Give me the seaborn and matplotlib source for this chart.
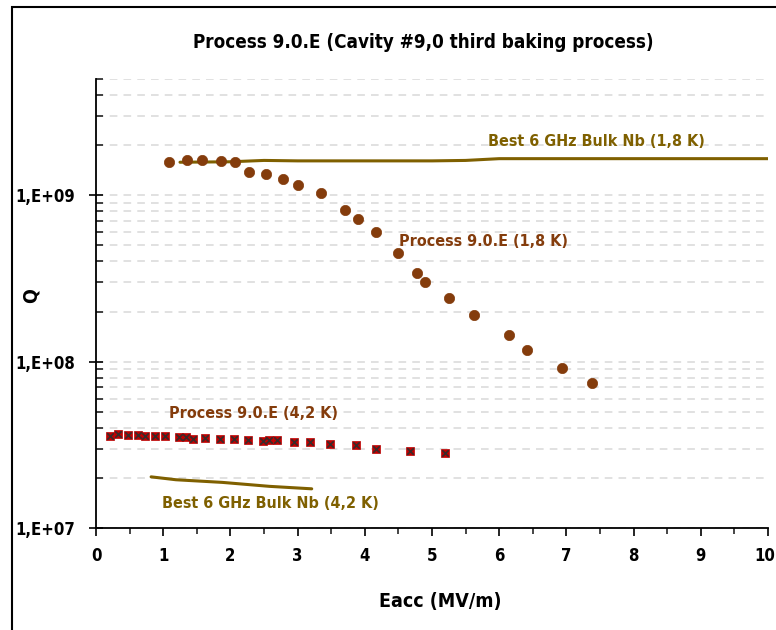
import matplotlib
matplotlib.use("Agg")
import matplotlib.pyplot as plt
import matplotlib.ticker as mticker
import matplotlib.transforms as mtransforms
from matplotlib.patches import Rectangle
import numpy as np
import pandas as pd
import seaborn as sns

# Q(Eacc) at 1.8 K, process 9.0.E
eacc_18 = [1.09, 1.36, 1.58, 1.86, 2.07, 2.28, 2.53, 2.79, 3.01, 3.35, 3.70,
           3.90, 4.17, 4.50, 4.78, 4.90, 5.25, 5.63, 6.14, 6.42, 6.94, 7.38]
q_18 = [1.58e9, 1.62e9, 1.62e9, 1.60e9, 1.58e9, 1.38e9, 1.34e9, 1.25e9, 1.16e9,
        1.03e9, 8.2e8, 7.2e8, 6.0e8, 4.5e8, 3.4e8, 3.0e8, 2.4e8, 1.9e8, 1.45e8,
        1.18e8, 9.2e7, 7.4e7]

# Q(Eacc) at 4.2 K, process 9.0.E
eacc_42 = [0.21, 0.33, 0.48, 0.62, 0.73, 0.88, 1.02, 1.23, 1.34, 1.45, 1.62, 1.85,
           2.05, 2.26, 2.48, 2.58, 2.70, 2.95, 3.18, 3.48, 3.87, 4.17, 4.67, 5.19]
q_42 = [3.55e7, 3.67e7, 3.61e7, 3.61e7, 3.58e7, 3.59e7, 3.57e7, 3.53e7, 3.50e7,
        3.45e7, 3.47e7, 3.45e7, 3.42e7, 3.36e7, 3.34e7, 3.40e7, 3.36e7, 3.30e7,
        3.27e7, 3.22e7, 3.16e7, 2.99e7, 2.90e7, 2.81e7]

# Reference curves: best 6 GHz bulk Nb cavity
best_eacc_18 = [1.25, 2.0, 2.5, 3.0, 4.0, 5.0, 5.5, 6.0, 7.0, 8.0, 10.0]
best_q_18 = [1.58e9, 1.59e9, 1.62e9, 1.61e9, 1.61e9, 1.61e9, 1.62e9, 1.66e9,
             1.66e9, 1.66e9, 1.66e9]
best_eacc_42 = [0.82, 1.19, 1.88, 2.58, 3.21]
best_q_42 = [2.03e7, 1.95e7, 1.88e7, 1.78e7, 1.72e7]

y_ticks = [1e7, 1e8, 1e9]
y_tick_labels = ["1,E+07", "1,E+08", "1,E+09"]
x_ticks = list(range(0, 11))

BROWN = "#843C0C"
OLIVE = "#7F6000"
RED = "#C00000"

sns.set_style("white")
plt.rcParams["font.family"] = ["DejaVu Sans"]
plt.rcParams["font.stretch"] = "condensed"
plt.rcParams["font.weight"] = "bold"
plt.rcParams["text.color"] = "black"
plt.rcParams["axes.labelcolor"] = "black"

fig = plt.figure(figsize=(7.76, 6.30), dpi=100)
ax = fig.add_axes([96 / 776, 102 / 630, 672 / 776, 449 / 630])

# outer chart border
fig.patches.append(Rectangle((12 / 776, -0.1), 1.2, 1.1 - 7 / 630,
                             transform=fig.transFigure, fill=False,
                             edgecolor="black", linewidth=1.5, zorder=0))

df18b = pd.DataFrame({"Eacc": best_eacc_18, "Q": best_q_18})
df42b = pd.DataFrame({"Eacc": best_eacc_42, "Q": best_q_42})
df18 = pd.DataFrame({"Eacc": eacc_18, "Q": q_18})
df42 = pd.DataFrame({"Eacc": eacc_42, "Q": q_42})

sns.lineplot(data=df18b, x="Eacc", y="Q", ax=ax, color=OLIVE, linewidth=2.2,
             sort=True, zorder=3)
sns.lineplot(data=df42b, x="Eacc", y="Q", ax=ax, color=OLIVE, linewidth=2.2,
             sort=True, zorder=3)
sns.scatterplot(data=df18, x="Eacc", y="Q", ax=ax, color=BROWN, marker="o",
                s=55, edgecolor=BROWN, linewidth=0.5, zorder=4)
sns.scatterplot(data=df42, x="Eacc", y="Q", ax=ax, color=RED, marker="s",
                s=36, edgecolor=RED, linewidth=0.5, zorder=4)
sns.scatterplot(data=df42, x="Eacc", y="Q", ax=ax, color="#3a2a2a", marker="x",
                s=22, linewidth=1.2, zorder=5)

ax.set_yscale("log")
ax.set_xlim(0, 10)
ax.set_ylim(1e7, 5e9)

ax.set_yticks(y_ticks)
ax.set_yticklabels(y_tick_labels)
ax.yaxis.set_minor_locator(mticker.LogLocator(base=10, subs=np.arange(2, 10), numticks=20))
ax.yaxis.set_minor_formatter(mticker.NullFormatter())
ax.set_xticks(x_ticks)
ax.set_xticklabels([str(v) for v in x_ticks])
ax.xaxis.set_minor_locator(mticker.MultipleLocator(0.5))

ax.grid(True, which="both", axis="y", color="#D9D9D9", linestyle=(0, (5, 4)),
        linewidth=1.1)
ax.grid(False, axis="x")
ax.set_axisbelow(True)

for side in ("top", "right"):
    ax.spines[side].set_visible(False)
for side in ("left", "bottom"):
    ax.spines[side].set_color("black")
    ax.spines[side].set_linewidth(1.3)

ax.tick_params(axis="y", which="major", direction="inout", length=10, width=1.2,
               labelsize=12, pad=10, colors="black", left=True)
ax.tick_params(axis="y", which="minor", direction="in", length=5, width=1.2,
               left=True)
ax.tick_params(axis="x", which="major", direction="out", length=6, width=1.2,
               labelsize=12, pad=8, colors="black", bottom=True)
ax.tick_params(axis="x", which="minor", direction="out", length=4, width=1.2,
               bottom=True)
for lab in ax.get_xticklabels() + ax.get_yticklabels():
    lab.set_fontweight("bold")

# keep the last x tick label inside the canvas
last = ax.get_xticklabels()[-1]
last.set_transform(last.get_transform() +
                   mtransforms.ScaledTranslation(-3 / 100, 0, fig.dpi_scale_trans))

ax.set_xlabel("Eacc (MV/m)", fontsize=14, fontweight="bold")
ax.xaxis.set_label_coords(0.512, -0.142)
ax.set_ylabel("Q", fontsize=14, fontweight="bold")
ax.yaxis.set_label_coords(-0.082, 0.517)
fig.text(423 / 776, 1 - 43 / 630, "Process 9.0.E (Cavity #9,0 third baking process)",
         ha="center", va="center", fontsize=13.5, fontweight="bold")

ax.text(7.45, 2.11e9, "Best 6 GHz Bulk Nb (1,8 K)", color=OLIVE, fontsize=11.5,
        fontweight="bold", ha="center", va="center")
ax.text(5.77, 5.28e8, "Process 9.0.E (1,8 K)", color=BROWN, fontsize=11.5,
        fontweight="bold", ha="center", va="center")
ax.text(2.35, 4.86e7, "Process 9.0.E (4,2 K)", color=BROWN, fontsize=11.5,
        fontweight="bold", ha="center", va="center")
ax.text(2.59, 1.40e7, "Best 6 GHz Bulk Nb (4,2 K)", color=OLIVE, fontsize=11.5,
        fontweight="bold", ha="center", va="center")

fig.savefig("out.png", dpi=100)
